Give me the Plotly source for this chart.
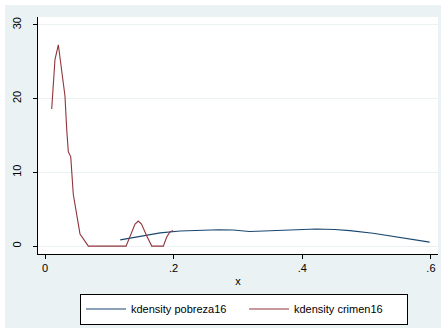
import plotly.graph_objects as go

# kdensity pobreza16
pob_x = [0.117, 0.148, 0.179, 0.21, 0.24, 0.27, 0.292, 0.318, 0.34, 0.37, 0.396, 0.422, 0.45, 0.474, 0.51, 0.53, 0.552, 0.575, 0.598]
pob_y = [0.85, 1.3, 1.8, 2.05, 2.18, 2.22, 2.18, 1.98, 2.05, 2.12, 2.23, 2.32, 2.25, 2.1, 1.74, 1.45, 1.11, 0.82, 0.54]

# kdensity crimen16
cri_x = [0.0104, 0.0155, 0.0207, 0.0244, 0.0269, 0.031, 0.0337, 0.0362, 0.040, 0.044, 0.0544, 0.0674,
         0.126, 0.132, 0.140, 0.145, 0.150, 0.158, 0.166, 0.184, 0.189, 0.194, 0.199]
cri_y = [18.6, 25.3, 27.3, 24.9, 23.7, 20.4, 15.9, 12.8, 12.1, 7.0, 1.65, 0.0,
         0.0, 1.2, 3.0, 3.4, 3.0, 1.4, 0.0, 0.0, 1.2, 1.9, 2.1]

x_ticks = [0, 0.2, 0.4, 0.6]
x_tick_labels = ["0", ".2", ".4", ".6"]
y_ticks = [0, 10, 20, 30]
y_tick_labels = ["0", "10", "20", "30"]

NAVY = "#1a476f"
MAROON = "#90353b"
BG = "#eaf2f3"
FONT = "Liberation Sans, Arial, sans-serif"

OFF = 5  # page margin (white border around the graph region)
W, H = 441 - OFF, 328 - OFF
L, T = 38 - OFF, 17 - OFF
R, B = 441 - 438, 328 - 257
pw, ph = W - L - R, H - T - B

def px(xp):
    return (xp - OFF - L) / pw

def py(yp):
    return (H - B - (yp - OFF)) / ph

fig = go.Figure()
fig.add_trace(go.Scatter(x=pob_x, y=pob_y, mode="lines", name="kdensity pobreza16",
                         line=dict(color=NAVY, width=1.1)))
fig.add_trace(go.Scatter(x=cri_x, y=cri_y, mode="lines", name="kdensity crimen16",
                         line=dict(color=MAROON, width=1.1)))

fig.update_layout(
    width=W, height=H,
    margin=dict(l=L, r=R, t=T, b=B),
    paper_bgcolor=BG,
    plot_bgcolor="white",
    font=dict(family=FONT, size=11, color="black"),
    xaxis=dict(
        range=[-0.0109, 0.611], tickvals=x_ticks, ticktext=x_tick_labels,
        showgrid=False, zeroline=False, showline=True, linecolor="black", linewidth=1,
        ticks="outside", ticklen=4, tickcolor="black",
        title=dict(text="x", standoff=4, font=dict(size=11)),
    ),
    yaxis=dict(
        range=[-1.07, 31.07], tickvals=y_ticks, ticktext=y_tick_labels, tickangle=-90,
        showgrid=True, gridcolor=BG, gridwidth=1, zeroline=False,
        showline=True, linecolor="black", linewidth=1,
        ticks="outside", ticklen=4, tickcolor="black", ticklabelstandoff=8,
    ),
    legend=dict(
        orientation="h", x=px(80), xanchor="left", y=py(297), yanchor="top",
        bgcolor="white", bordercolor="black", borderwidth=1,
        font=dict(size=11), itemwidth=40, tracegroupgap=0, entrywidth=108,
    ),
    showlegend=True,
)

fig.write_html("out.html", config={"displayModeBar": False},
               post_script="document.body.style.margin='%dpx';" % OFF)
